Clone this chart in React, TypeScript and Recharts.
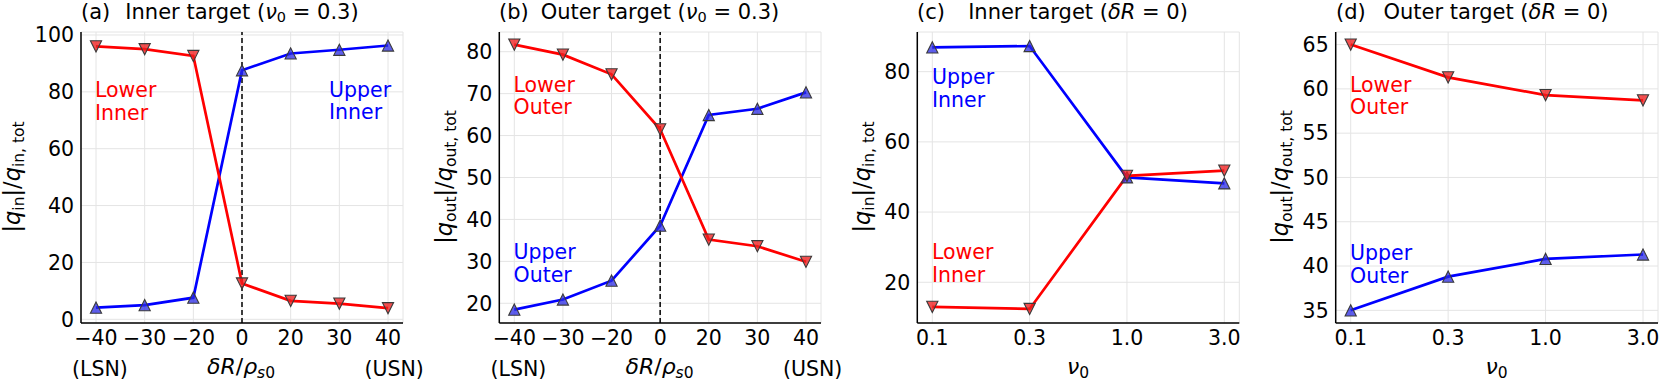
import React from 'react';
import { LineChart, Line, XAxis, YAxis, CartesianGrid, ReferenceLine } from 'recharts';

// ---------- data ----------
const dRCats = ['\u221240', '\u221230', '\u221220', '0', '20', '30', '40'];
const nuCats = ['0.1', '0.3', '1.0', '3.0'];

const aLowerInner = [96.0, 95.0, 92.6, 12.6, 6.5, 5.5, 3.9];
const aUpperInner = [4.1, 5.0, 7.6, 87.6, 93.5, 94.8, 96.3];

const bLowerOuter = [81.7, 79.3, 74.6, 61.5, 35.2, 33.6, 29.9];
const bUpperOuter = [18.5, 20.9, 25.4, 38.5, 64.9, 66.4, 70.3];

const cLowerInner = [13.0, 12.4, 50.3, 51.8];
const cUpperInner = [86.9, 87.3, 49.9, 48.2];

const dLowerOuter = [65.0, 61.3, 59.3, 58.7];
const dUpperOuter = [35.0, 38.8, 40.8, 41.3];

const aYTicks = [0, 20, 40, 60, 80, 100];
const bYTicks = [20, 30, 40, 50, 60, 70, 80];
const cYTicks = [20, 40, 60, 80];
const dYTicks = [35, 40, 45, 50, 55, 60, 65];

const aDomain: [number, number] = [-1.3, 101.05];
const bDomain: [number, number] = [15.3, 84.7];
const cDomain: [number, number] = [8.4, 91.3];
const dDomain: [number, number] = [33.57, 66.42];

function minorTicks(domain: [number, number], step: number, majors: number[]) {
  const out: number[] = [];
  const start = Math.ceil(domain[0] / step) * step;
  for (let v = start; v <= domain[1] + 1e-9; v += step) {
    const r = Math.round(v * 1000) / 1000;
    if (!majors.some((m) => Math.abs(m - r) < 1e-6)) out.push(r);
  }
  return out;
}

const FONT = 'DejaVu Sans';
const FS = 20.5;
const TFS = 21;
const RED = '#ff0000';
const BLUE = '#0000ff';

const TriDown = (props: any) => {
  const { cx, cy, index } = props;
  if (cx == null || cy == null) return <g key={`d${index}`} />;
  const h = 5.6;
  return (
    <polygon
      key={`d${index}`}
      points={`${cx},${cy + h} ${cx - h},${cy - h} ${cx + h},${cy - h}`}
      fill="rgba(240,30,30,0.78)"
      stroke="#3a3a3a"
      strokeWidth={1.1}
    />
  );
};
const TriUp = (props: any) => {
  const { cx, cy, index } = props;
  if (cx == null || cy == null) return <g key={`u${index}`} />;
  const h = 5.6;
  return (
    <polygon
      key={`u${index}`}
      points={`${cx},${cy - h} ${cx - h},${cy + h} ${cx + h},${cy + h}`}
      fill="rgba(40,40,230,0.75)"
      stroke="#3a3a3a"
      strokeWidth={1.1}
    />
  );
};

type PanelProps = {
  left: number;
  width: number;
  plotLeft: number;
  plotRight: number;
  cats: string[];
  lower: number[];
  upper: number[];
  domain: [number, number];
  ticks: number[];
  minor: number[];
  vline?: boolean;
};

function Panel(p: PanelProps) {
  const data = p.cats.map((c, i) => ({ x: c, lo: p.lower[i], up: p.upper[i] }));
  const tickStyle = { fontSize: FS, fill: '#000', fontFamily: FONT };
  const frame = { stroke: '#000', strokeWidth: 1.5 };
  const pad = { left: 15, right: 15 };
  return (
    <div style={{ position: 'absolute', left: p.left, top: 0, width: p.width, height: 383 }}>
      <LineChart
        width={p.width}
        height={383}
        data={data}
        margin={{ top: 32, right: p.width - p.plotRight, bottom: 0, left: 0 }}
      >
        <CartesianGrid stroke="#e4e4e4" strokeWidth={1} />
        <XAxis
          dataKey="x"
          type="category"
          height={60}
          padding={pad}
          interval={0}
          tickLine={false}
          tickSize={0}
          tickMargin={7.5}
          axisLine={frame}
          tick={tickStyle}
        />
        <XAxis
          xAxisId="tk"
          dataKey="x"
          type="category"
          mirror
          height={0}
          padding={pad}
          interval={0}
          tick={false}
          axisLine={false}
          tickSize={5}
          tickLine={{ stroke: '#000', strokeWidth: 1 }}
        />
        <XAxis
          xAxisId="top"
          dataKey="x"
          type="category"
          orientation="top"
          mirror
          height={0}
          padding={pad}
          tick={false}
          tickLine={false}
          axisLine={frame}
        />
        <YAxis
          type="number"
          domain={p.domain}
          allowDataOverflow
          ticks={p.ticks}
          interval={0}
          width={p.plotLeft}
          tickLine={false}
          tickSize={0}
          tickMargin={7}
          axisLine={frame}
          tick={tickStyle}
        />
        <YAxis
          yAxisId="maj"
          type="number"
          domain={p.domain}
          allowDataOverflow
          ticks={p.ticks}
          interval={0}
          mirror
          width={0}
          tick={false}
          axisLine={false}
          tickSize={5}
          tickLine={{ stroke: '#000', strokeWidth: 1 }}
        />
        <YAxis
          yAxisId="min"
          type="number"
          domain={p.domain}
          allowDataOverflow
          ticks={p.minor}
          interval={0}
          mirror
          width={0}
          tick={false}
          axisLine={false}
          tickSize={2.5}
          tickLine={{ stroke: '#000', strokeWidth: 0.8 }}
        />
        <YAxis
          yAxisId="right"
          type="number"
          orientation="right"
          domain={p.domain}
          allowDataOverflow
          mirror
          width={0}
          tick={false}
          tickLine={false}
          axisLine={frame}
        />
        {p.vline && <ReferenceLine x="0" stroke="#000" strokeWidth={1.5} strokeDasharray="5 3" />}
        <Line dataKey="up" stroke={BLUE} strokeWidth={2.7} dot={TriUp} activeDot={false} isAnimationActive={false} />
        <Line dataKey="lo" stroke={RED} strokeWidth={2.7} dot={TriDown} activeDot={false} isAnimationActive={false} />
      </LineChart>
    </div>
  );
}

const SUB = 15.5;

function YLabel({ x, y, sub }: { x: number; y: number; sub: string }) {
  return (
    <text transform={`translate(${x},${y}) rotate(-90)`} textAnchor="middle" fontSize={22.5} fontFamily={FONT} fill="#000">
      <tspan>|</tspan>
      <tspan fontStyle="italic">q</tspan>
      <tspan fontSize={SUB} dy={4}>{sub}</tspan>
      <tspan dy={-4}>|/</tspan>
      <tspan fontStyle="italic">q</tspan>
      <tspan fontSize={SUB} dy={4}>{`${sub}, tot`}</tspan>
    </text>
  );
}

function Title({ lx, cx, label, children }: { lx: number; cx: number; label: string; children: React.ReactNode }) {
  return (
    <g fontSize={TFS} fontFamily={FONT} fill="#000">
      <text x={lx} y={18.8} textAnchor="start">{label}</text>
      <text x={cx} y={18.8} textAnchor="middle">{children}</text>
    </g>
  );
}

function Note({ x, y, color, lines }: { x: number; y: number; color: string; lines: string[] }) {
  return (
    <text x={x} y={y} fontSize={FS} fontFamily={FONT} fill={color}>
      {lines.map((l, i) => (
        <tspan key={i} x={x} dy={i === 0 ? 0 : 22.7}>{l}</tspan>
      ))}
    </text>
  );
}

function DRLabel({ cx }: { cx: number }) {
  return (
    <text x={cx} y={374} textAnchor="middle" fontSize={22} fontFamily={FONT} fill="#000">
      <tspan fontStyle="italic">{'\u03b4R'}</tspan>
      <tspan>/</tspan>
      <tspan fontStyle="italic">{'\u03c1'}</tspan>
      <tspan fontSize={SUB} dy={4} fontStyle="italic">s</tspan>
      <tspan fontSize={SUB}>0</tspan>
    </text>
  );
}

function NuLabel({ cx }: { cx: number }) {
  return (
    <text x={cx} y={373.5} textAnchor="middle" fontSize={22} fontFamily={FONT} fill="#000">
      <tspan fontStyle="italic">{'\u03bd'}</tspan>
      <tspan fontSize={SUB} dy={4}>0</tspan>
    </text>
  );
}

function Overlay() {
  const small = { fontSize: FS, fontFamily: FONT, fill: '#000' };
  return (
    <svg width={1661} height={383} style={{ position: 'absolute', left: 0, top: 0, pointerEvents: 'none' }}>
      <Title lx={81} cx={242} label="(a)">
        {'Inner target ('}
        <tspan fontStyle="italic">{'\u03bd'}</tspan>
        <tspan fontSize={14.5} dy={3}>0</tspan>
        <tspan dy={-3}>{' = 0.3)'}</tspan>
      </Title>
      <Title lx={499} cx={660} label="(b)">
        {'Outer target ('}
        <tspan fontStyle="italic">{'\u03bd'}</tspan>
        <tspan fontSize={14.5} dy={3}>0</tspan>
        <tspan dy={-3}>{' = 0.3)'}</tspan>
      </Title>
      <Title lx={917} cx={1078} label="(c)">
        {'Inner target ('}
        <tspan fontStyle="italic">{'\u03b4R'}</tspan>
        <tspan>{' = 0)'}</tspan>
      </Title>
      <Title lx={1336} cx={1496} label="(d)">
        {'Outer target ('}
        <tspan fontStyle="italic">{'\u03b4R'}</tspan>
        <tspan>{' = 0)'}</tspan>
      </Title>

      <YLabel x={20} y={177} sub="in" />
      <YLabel x={452} y={177} sub="out" />
      <YLabel x={870} y={177} sub="in" />
      <YLabel x={1288} y={177} sub="out" />

      <Note x={95} y={97.3} color={RED} lines={['Lower', 'Inner']} />
      <Note x={329} y={96.7} color={BLUE} lines={['Upper', 'Inner']} />
      <Note x={513.5} y={91.6} color={RED} lines={['Lower', 'Outer']} />
      <Note x={513.5} y={259} color={BLUE} lines={['Upper', 'Outer']} />
      <Note x={932} y={84.3} color={BLUE} lines={['Upper', 'Inner']} />
      <Note x={932} y={259.3} color={RED} lines={['Lower', 'Inner']} />
      <Note x={1350} y={91.6} color={RED} lines={['Lower', 'Outer']} />
      <Note x={1350} y={260} color={BLUE} lines={['Upper', 'Outer']} />

      <DRLabel cx={241} />
      <DRLabel cx={659.5} />
      <NuLabel cx={1078} />
      <NuLabel cx={1496.5} />

      <text x={72} y={375.5} {...small}>(LSN)</text>
      <text x={364.5} y={375.5} {...small}>(USN)</text>
      <text x={490.5} y={375.5} {...small}>(LSN)</text>
      <text x={783} y={375.5} {...small}>(USN)</text>
    </svg>
  );
}

export default function App() {
  return (
    <div style={{ position: 'absolute', left: 0, top: 0, width: 1661, height: 383, background: '#fff', fontFamily: FONT }}>
      <Panel left={0} width={420} plotLeft={81} plotRight={403} cats={dRCats} lower={aLowerInner} upper={aUpperInner}
        domain={aDomain} ticks={aYTicks} minor={minorTicks(aDomain, 5, aYTicks)} vline />
      <Panel left={420} width={420} plotLeft={79.3} plotRight={401} cats={dRCats} lower={bLowerOuter} upper={bUpperOuter}
        domain={bDomain} ticks={bYTicks} minor={minorTicks(bDomain, 2, bYTicks)} vline />
      <Panel left={840} width={420} plotLeft={77.3} plotRight={399.3} cats={nuCats} lower={cLowerInner} upper={cUpperInner}
        domain={cDomain} ticks={cYTicks} minor={minorTicks(cDomain, 5, cYTicks)} />
      <Panel left={1250} width={411} plotLeft={85.7} plotRight={408} cats={nuCats} lower={dLowerOuter} upper={dUpperOuter}
        domain={dDomain} ticks={dYTicks} minor={minorTicks(dDomain, 1, dYTicks)} />
      <Overlay />
    </div>
  );
}
